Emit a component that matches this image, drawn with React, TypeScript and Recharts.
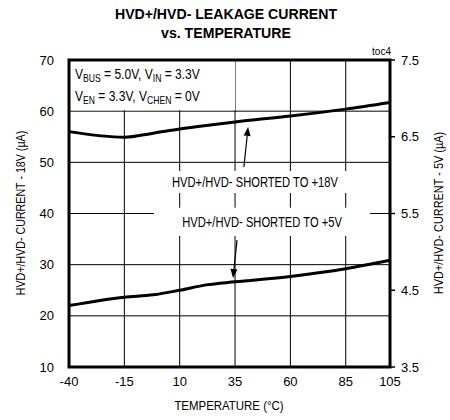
import React from "react";
import {
  CartesianGrid,
  Line,
  LineChart,
  ReferenceArea,
  ReferenceLine,
  XAxis,
  YAxis,
} from "recharts";

const FONT = '"Liberation Sans", Arial, sans-serif';

// temperature (°C)
const temps = [-40, -15, -2, 10, 22, 35, 60, 85, 105];
// leakage with pins shorted to +18V (left axis, µA)
const current18V = [56.0, 54.9, 55.7, 56.5, 57.2, 57.9, 59.05, 60.4, 61.7];
// leakage with pins shorted to +5V (right axis, µA)
const current5V = [4.3, 4.41, 4.44, 4.5, 4.57, 4.61, 4.68, 4.78, 4.89];

const xTicks = [-40, -15, 10, 35, 60, 85, 105];
const leftTicks = [10, 20, 30, 40, 50, 60, 70];
const rightTicks = [3.5, 4.5, 5.5, 6.5, 7.5];

const data = temps.map((t, i) => ({ temp: t, i18: current18V[i], i5: current5V[i] }));

// the original uses a narrow sans; squeeze Liberation Sans horizontally instead
function NText({ x, y, s = 0.8, size = 14, children }: any) {
  return (
    <text
      transform={`translate(${x},${y}) scale(${s},1)`}
      textAnchor="middle"
      dominantBaseline="central"
      fontFamily={FONT}
      fontSize={size}
      fill="#000"
    >
      {children}
    </text>
  );
}

// line with a filled arrowhead at its second point
function Arrow(props: any) {
  const { x1, y1, x2, y2 } = props;
  const ang = Math.atan2(y2 - y1, x2 - x1);
  const len = 9;
  const w = 3.5;
  const bx = x2 - len * Math.cos(ang);
  const by = y2 - len * Math.sin(ang);
  const px = -Math.sin(ang) * w;
  const py = Math.cos(ang) * w;
  return (
    <g>
      <line x1={x1} y1={y1} x2={bx} y2={by} stroke="#000" strokeWidth={1.2} />
      <polygon points={`${x2},${y2} ${bx + px},${by + py} ${bx - px},${by - py}`} fill="#000" />
    </g>
  );
}

function CondLabel({ viewBox }: any) {
  const x = viewBox.x + 6;
  const y = viewBox.y;
  return (
    <text transform={`translate(${x},${y}) scale(0.86,1)`} fontFamily={FONT} fontSize={14} fill="#000">
      <tspan x={0} y={19}>V</tspan>
      <tspan fontSize={10} dy={3}>BUS</tspan>
      <tspan dy={-3}> = 5.0V, V</tspan>
      <tspan fontSize={10} dy={3}>IN</tspan>
      <tspan dy={-3}> = 3.3V</tspan>
      <tspan x={0} y={41}>V</tspan>
      <tspan fontSize={10} dy={3}>EN</tspan>
      <tspan dy={-3}> = 3.3V, V</tspan>
      <tspan fontSize={10} dy={3}>CHEN</tspan>
      <tspan dy={-3}> = 0V</tspan>
    </text>
  );
}

const boxLabel = (text: string) => (p: any) => {
  const vb = p.viewBox;
  return <NText x={vb.x + vb.width / 2} y={vb.y + vb.height / 2 + 1}>{text}</NText>;
};

const sideLabel: React.CSSProperties = {
  position: "absolute",
  whiteSpace: "nowrap",
  fontFamily: FONT,
  fontSize: 13,
  lineHeight: "15px",
};

export default function App() {
  const tick = { fontSize: 13, fill: "#000", fontFamily: FONT };
  return (
    <div style={{ position: "absolute", left: 0, top: 0, width: 450, height: 420, background: "#fff" }}>
      <div
        style={{
          position: "absolute",
          left: 0,
          top: 4,
          width: 452,
          textAlign: "center",
          fontFamily: FONT,
          fontWeight: "bold",
          fontSize: 15,
          lineHeight: "19px",
          transform: "scaleX(0.94)",
        }}
      >
        HVD+/HVD- LEAKAGE CURRENT
        <br />
        vs. TEMPERATURE
      </div>
      <div style={{ position: "absolute", left: 360, top: 46, width: 31, textAlign: "right", fontFamily: FONT, fontSize: 10 }}>
        toc4
      </div>
      <div style={{ ...sideLabel, left: 20, top: 213, transform: "translate(-50%,-50%) rotate(-90deg) scaleX(0.82)" }}>
        HVD+/HVD- CURRENT - 18V (µA)
      </div>
      <div style={{ ...sideLabel, left: 438, top: 213, transform: "translate(-50%,-50%) rotate(-90deg) scaleX(0.84)" }}>
        HVD+/HVD- CURRENT - 5V (µA)
      </div>
      <div style={{ ...sideLabel, left: 229, top: 405, transform: "translate(-50%,-50%) scaleX(0.88)" }}>
        TEMPERATURE (°C)
      </div>
      <LineChart width={450} height={420} data={data} margin={{ top: 60, right: 20, bottom: 33, left: 39 }}>
        <CartesianGrid yAxisId="left" stroke="#000" strokeWidth={1} horizontalValues={leftTicks} verticalValues={xTicks} />
        <XAxis
          dataKey="temp"
          type="number"
          domain={[-40, 105]}
          ticks={xTicks}
          axisLine={false}
          tickLine={false}
          tickSize={0}
          tickMargin={10}
          height={20}
          tick={tick}
          interval={0}
        />
        <YAxis
          yAxisId="left"
          domain={[10, 70]}
          ticks={leftTicks}
          axisLine={false}
          tickLine={false}
          tickSize={0}
          tickMargin={15}
          width={30}
          tick={tick}
          interval={0}
        />
        <YAxis
          yAxisId="right"
          orientation="right"
          domain={[3.5, 7.5]}
          ticks={rightTicks}
          axisLine={false}
          tickLine={{ stroke: "#000", strokeWidth: 1.5 }}
          tickSize={5}
          tickMargin={6}
          width={40}
          tick={tick}
          interval={0}
          tickFormatter={(v: number) => v.toFixed(1)}
        />

        <ReferenceArea yAxisId="left" x1={-40} x2={35} y1={60.2} y2={70} fill="#fff" fillOpacity={1} stroke="none" label={<CondLabel />} />
        <ReferenceArea
          yAxisId="left"
          x1={0}
          x2={88}
          y1={44}
          y2={48.3}
          fill="#fff"
          fillOpacity={1}
          stroke="none"
          label={boxLabel("HVD+/HVD- SHORTED TO +18V")}
        />
        <ReferenceArea
          yAxisId="left"
          x1={-1.6}
          x2={96}
          y1={35.6}
          y2={41.1}
          fill="#fff"
          fillOpacity={1}
          stroke="none"
          label={boxLabel("HVD+/HVD- SHORTED TO +5V")}
        />

        <Line yAxisId="left" dataKey="i18" type="monotone" stroke="#000" strokeWidth={3} dot={false} isAnimationActive={false} />
        <Line yAxisId="right" dataKey="i5" type="monotone" stroke="#000" strokeWidth={3} dot={false} isAnimationActive={false} />

        <ReferenceLine yAxisId="left" segment={[{ x: 39, y: 49.1 }, { x: 40.9, y: 56.9 }]} shape={<Arrow />} />
        <ReferenceLine yAxisId="left" segment={[{ x: 35.9, y: 34.8 }, { x: 34.1, y: 27.4 }]} shape={<Arrow />} />

        <ReferenceArea yAxisId="left" x1={-40} x2={105} y1={10} y2={70} fill="none" stroke="#000" strokeWidth={3} />
      </LineChart>
    </div>
  );
}
